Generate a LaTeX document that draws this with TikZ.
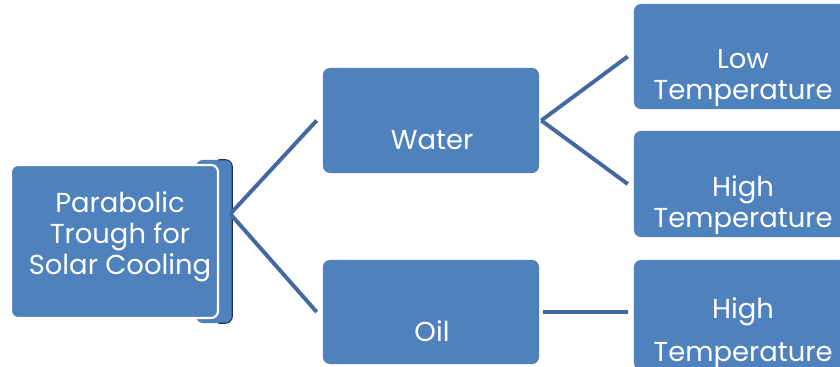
\documentclass[tikz,border=0pt]{standalone}
\usepackage{fontspec}
\setmainfont{Poppins}
\usetikzlibrary{positioning}
\definecolor{boxblue}{HTML}{4F81BD}
\definecolor{lineblue}{HTML}{4369A0}
\definecolor{edgeblue}{HTML}{1F3350}

\begin{document}
\begin{tikzpicture}[
    x=0.025cm, y=-0.025cm,
    box/.style={rectangle, fill=boxblue, rounded corners=5pt, inner sep=0pt, minimum width=5.4cm, minimum height=2.625cm},
    txt/.style={text=white, font=\fontsize{19.5}{22}\selectfont, align=center, inner sep=0pt},
    link/.style={draw=lineblue, line width=2.8pt}
]
\useasboundingbox (0,0) rectangle (840,367);

% Root (with its back plate)
\node[box, minimum width=0.9cm, minimum height=4.075cm] (Rsh) at (214,241.5) {};
\draw[edgeblue, line width=0.8pt, rounded corners=5pt] ([xshift=-0.35cm]Rsh.north east) -- (Rsh.north east) -- (Rsh.south east) -- ([xshift=-0.35cm]Rsh.south east);
\node[box, draw=white, line width=1.5pt, minimum width=5.175cm, minimum height=3.825cm] (R) at (114.5,241.5) {};
\node[txt] (Rt) at (120,237) {Parabolic\\Trough for\\Solar Cooling};

% Second level
\node[box] (W) at (431,120.5) {};
\node[txt] (Wt) at (432,140) {Water};
\node[box, minimum height=2.6cm] (O) at (431,312) {};
\node[txt] (Ot) at (432,331) {Oil};

% Third level
\node[box, minimum width=5.45cm] (L) at (743,56.5) {};
\node[txt] (Lt) at (743,78) {Low\\Temperature};
\node[box, minimum width=5.45cm, minimum height=2.65cm] (H) at (743,184) {};
\node[txt] (Ht) at (743,205) {High\\Temperature};
\node[box, minimum width=5.45cm, minimum height=2.75cm] (H2) at (743,315) {};
\node[txt] (H2t) at (743,333) {High\\[9pt]Temperature};

% Connections
\foreach \n in {W,O}
  \draw[link] ([xshift=-0.05cm, yshift=0.69cm]Rsh.east) -- ([xshift=-0.15cm]\n.west);
\foreach \n in {L,H}
  \draw[link] ([xshift=0.05cm]W.east) -- ([xshift=-0.15cm]\n.west);
\draw[link] ([xshift=0.1cm]O.east) -- ([xshift=-0.15cm]O.east -| H2.west);

\end{tikzpicture}
\end{document}
